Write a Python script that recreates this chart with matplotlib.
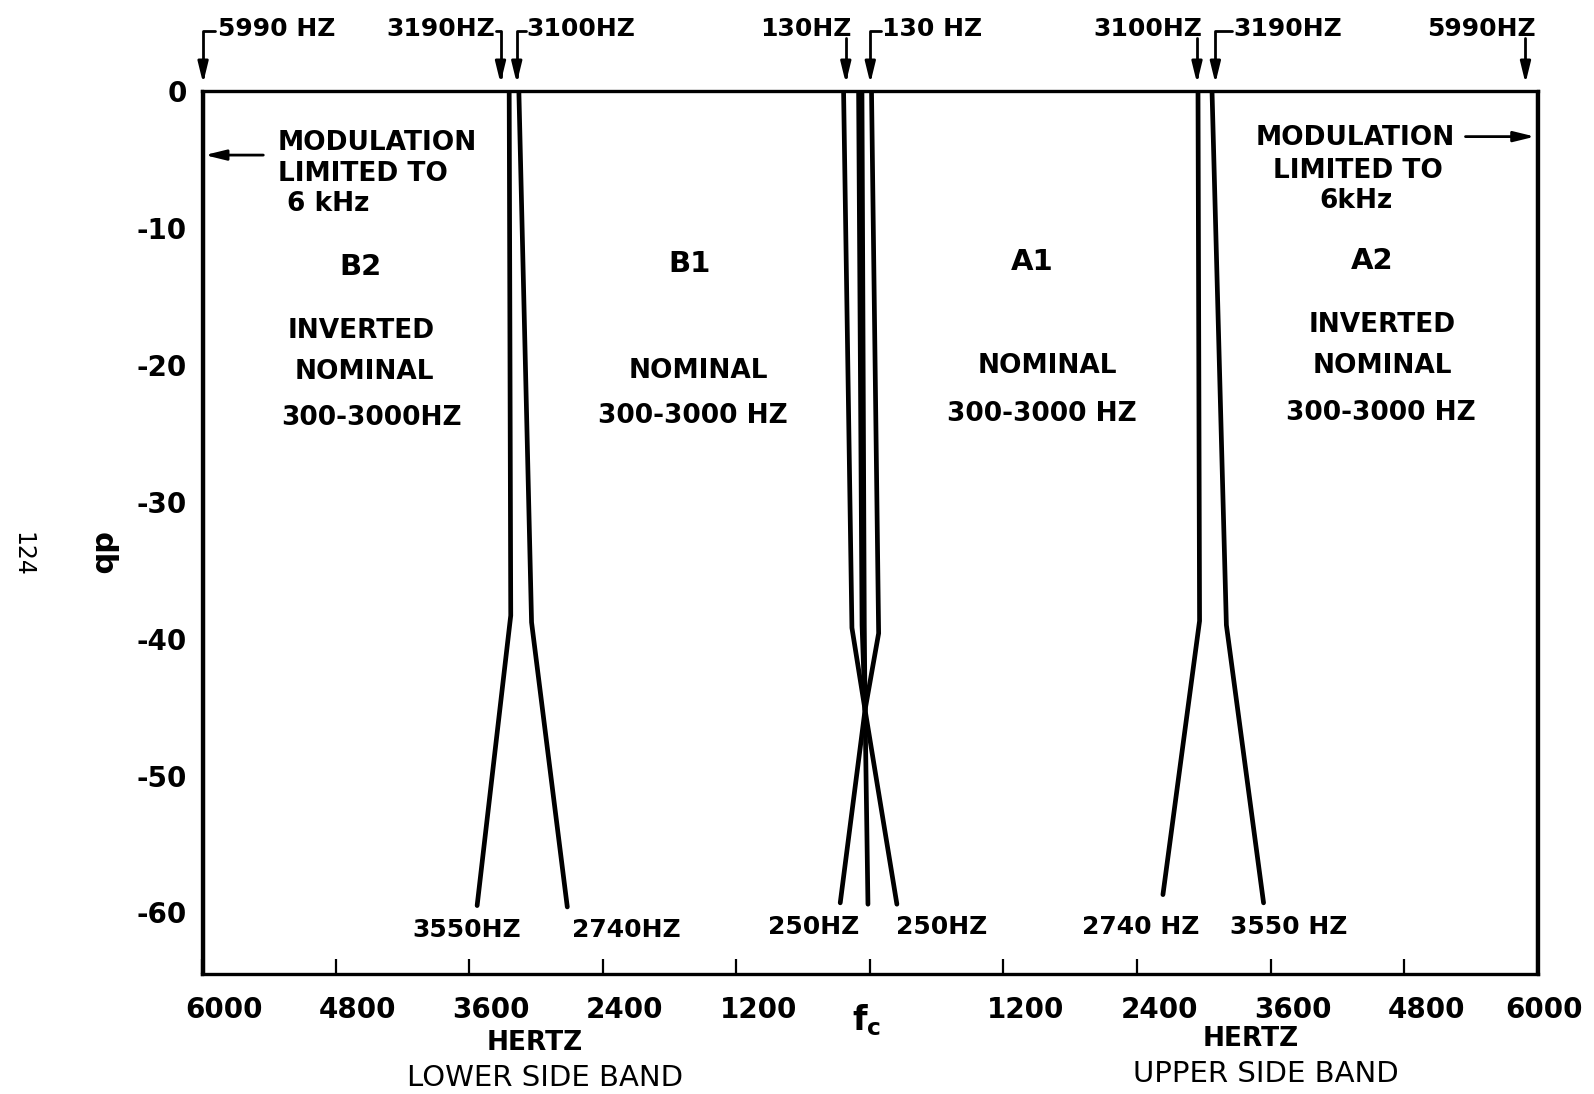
import matplotlib
matplotlib.use("Agg")
import matplotlib.pyplot as plt
import matplotlib.transforms as mtransforms

# filter edges, Hz (negative = lower side band) and dB
b2_hz = [-3240, -3226, -3528]
b2_db = [0, -38.3, -59.5]
b1_hz = [-3153, -3039, -2718]
b1_db = [0, -38.8, -59.6]
a1_hz = [2948, 2962, 2633]
a1_db = [0, -38.7, -58.7]
a2_hz = [3074, 3203, 3537]
a2_db = [0, -39.0, -59.3]

# carrier region
cl_hz = [-236, -161, -43, 243]
cl_db = [0, -39.2, -45.2, -59.4]
cr_hz = [15, 79, -43, -266]
cr_db = [0, -39.6, -45.2, -59.3]
cm1_hz = [-101, -70, -43, -17]
cm1_db = [0, -39.0, -45.2, -59.4]
cm2_hz = [-71, -50, -43]
cm2_db = [0, -39.0, -45.2]

# 6 kHz modulation limit
edge_hz = [-5990, 5990]

xtick_vals = [-6000, -4800, -3600, -2400, -1200, 0, 1200, 2400, 3600, 4800, 6000]
xtick_text = ["6000", "4800", "3600", "2400", "1200", "", "1200", "2400", "3600", "4800", "6000"]
ytick_vals = [0, -10, -20, -30, -40, -50, -60]
ytick_text = ["0", "-10", "-20", "-30", "-40", "-50", "-60"]

# (text, x, align) above the plot, and arrow (tip, start)
top_text = [
    ("5990 HZ", -5860, "left"),
    ("3190HZ", -3367, "right"),
    ("3100HZ", -3084, "left"),
    ("130HZ", -162, "right"),
    ("130 HZ", 109, "left"),
    ("3100HZ", 2990, "right"),
    ("3190HZ", 3263, "left"),
    ("5990HZ", 5983, "right"),
]
top_arrows = [
    (-5990, -5880),
    (-3318, -3362),
    (-3172, -3090),
    (-216, -216),
    (4, 100),
    (2939, 2939),
    (3104, 3255),
    (5890, 5890),
]

region_text = [
    ("B2", -4572, -12.8), ("INVERTED", -4572, -17.5), ("NOMINAL", -4545, -20.5), ("300-3000HZ", -4481, -23.9),
    ("B1", -1623, -12.6), ("NOMINAL", -1541, -20.4), ("300-3000 HZ", -1587, -23.7),
    ("A1", 1455, -12.5), ("NOMINAL", 1592, -20.1), ("300-3000 HZ", 1546, -23.6),
    ("A2", 4514, -12.4), ("INVERTED", 4605, -17.1), ("NOMINAL", 4605, -20.1), ("300-3000 HZ", 4587, -23.5),
]
bottom_text = [
    ("3550HZ", -3621, -61.3), ("2740HZ", -2189, -61.3), ("250HZ", -501, -61.1),
    ("250HZ", 642, -61.1), ("2740 HZ", 2432, -61.1), ("3550 HZ", 3766, -61.1),
]

FONT = "DejaVu Sans"
plt.rcParams["font.family"] = [FONT]
plt.rcParams["font.weight"] = "bold"


def main():
    fig = plt.figure(figsize=(15.94, 10.94), dpi=100)
    ax = fig.add_axes([0.1267, 0.1097, 0.838, 0.8067])
    ax.set_xlim(-6000, 6000)
    ax.set_ylim(-64.5, 0)

    lw = 3.4
    for xs, ys in [(b2_hz, b2_db), (b1_hz, b1_db), (a1_hz, a1_db), (a2_hz, a2_db),
                   (cl_hz, cl_db), (cr_hz, cr_db), (cm1_hz, cm1_db), (cm2_hz, cm2_db)]:
        ax.plot(xs, ys, color="black", lw=lw, solid_capstyle="round")
    for x in edge_hz:
        ax.plot([x, x], [0, -64.5], color="black", lw=2.5)

    for sp in ax.spines.values():
        sp.set_linewidth(2.4)

    ax.set_xticks(xtick_vals)
    ax.set_xticklabels(xtick_text)
    ax.set_yticks(ytick_vals)
    ax.set_yticklabels(ytick_text)
    ax.tick_params(axis="x", direction="in", length=11, width=1.6, pad=16, labelsize=20)
    ax.tick_params(axis="y", length=0, pad=11, labelsize=20)
    labels = ax.get_xticklabels()
    for i, lab in enumerate(labels):
        shift = 0.06 if i == len(labels) - 1 else 0.22
        offset = mtransforms.ScaledTranslation(shift, 0, fig.dpi_scale_trans)
        lab.set_transform(lab.get_transform() + offset)

    # labels above the plot
    for (txt, x, ha), (tip, start) in zip(top_text, top_arrows):
        ax.text(x, 4.6, txt, ha=ha, va="center", fontsize=18, clip_on=False)
        y0 = 4.4 if start != tip else 3.9
        ax.annotate("", xy=(tip, 0.6), xytext=(start, y0),
                    arrowprops=dict(arrowstyle="-|>,head_length=0.9,head_width=0.22",
                                    connectionstyle="angle,angleA=0,angleB=90,rad=0",
                                    shrinkA=0, shrinkB=0, lw=2, color="black",
                                    mutation_scale=14),
                    annotation_clip=False)

    # modulation limit notes
    for txt, x, y in [("MODULATION", -5316, -3.8), ("LIMITED TO", -5316, -6.0), ("6 kHz", -5240, -8.2)]:
        ax.text(x, y, txt, ha="left", va="center", fontsize=19)
    for txt, x, y in [("MODULATION", 4359, -3.4), ("LIMITED TO", 4386, -5.8), ("6kHz", 4368, -8.0)]:
        ax.text(x, y, txt, ha="center", va="center", fontsize=19)
    arrow = dict(arrowstyle="-|>,head_length=0.9,head_width=0.22", shrinkA=0, shrinkB=0,
                 lw=2, color="black", mutation_scale=14)
    ax.annotate("", xy=(-5975, -4.65), xytext=(-5449, -4.65), arrowprops=arrow)
    ax.annotate("", xy=(5975, -3.3), xytext=(5351, -3.3), arrowprops=arrow)

    for txt, x, y in region_text:
        size = 21 if len(txt) == 2 else 19
        ax.text(x, y, txt, ha="center", va="center", fontsize=size)
    for txt, x, y in bottom_text:
        ax.text(x, y, txt, ha="center", va="center", fontsize=18)

    fig.text(0.3355, 0.0465, "HERTZ", ha="center", va="center", fontsize=19)
    fig.text(0.3418, 0.0149, "LOWER SIDE BAND", ha="center", va="center", fontsize=21, weight="normal")
    fig.text(0.7844, 0.0502, "HERTZ", ha="center", va="center", fontsize=19)
    fig.text(0.794, 0.0186, "UPPER SIDE BAND", ha="center", va="center", fontsize=21, weight="normal")
    fig.text(0.5434, 0.0678, r"f$\mathregular{_c}$", ha="center", va="center", fontsize=24)
    fig.text(0.0638, 0.4935, "db", ha="center", va="center", fontsize=22, rotation=-90)
    fig.text(0.014, 0.4935, "124", ha="center", va="center", fontsize=17, weight="normal", rotation=-90)

    fig.savefig("out.png", dpi=100, facecolor="white")
    plt.close(fig)


if __name__ == "__main__":
    main()
